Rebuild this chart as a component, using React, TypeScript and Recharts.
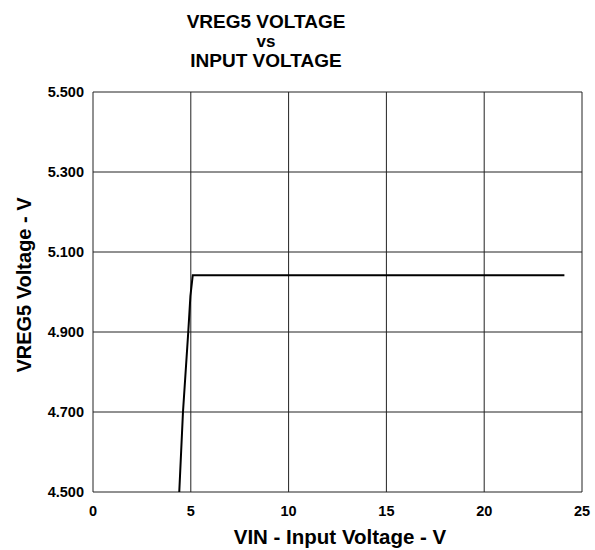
import { LineChart, Line, XAxis, YAxis, CartesianGrid } from 'recharts';

const vin = [4.41, 4.6, 4.87, 4.98, 5.1, 24.1];
const vreg5 = [4.5, 4.7, 4.9, 4.99, 5.042, 5.042];
const xTicks = [0, 5, 10, 15, 20, 25];
const yTicks = [4.5, 4.7, 4.9, 5.1, 5.3, 5.5];
const titleLines = ['VREG5 VOLTAGE', 'vs', 'INPUT VOLTAGE'];

const data = vin.map((v, i) => ({ vin: v, vreg5: vreg5[i] }));

const font = '"Liberation Sans", Arial, sans-serif';

function XTick({ x, y, payload }: any) {
  return (
    <text x={x} y={y + 18} textAnchor="middle" fontSize={14.5} fontWeight={700} fill="#000" fontFamily={font}>
      {payload.value}
    </text>
  );
}

function YTick({ x, y, payload }: any) {
  return (
    <text x={x - 3} y={y + 5} textAnchor="end" fontSize={14.5} fontWeight={700} fill="#000" fontFamily={font}>
      {Number(payload.value).toFixed(3)}
    </text>
  );
}

const titleLine = (top: number, size: number, h: number) => ({
  position: 'absolute' as const,
  left: 116,
  width: 300,
  top,
  height: h,
  lineHeight: `${h}px`,
  textAlign: 'center' as const,
  fontSize: size,
  fontWeight: 700,
});

export default function App() {
  return (
    <div style={{ position: 'absolute', left: 0, top: 0, width: 595, height: 550, background: '#fff', fontFamily: font, color: '#000' }}>
      <div style={titleLine(12, 19, 20)}>{titleLines[0]}</div>
      <div style={titleLine(33, 17, 17)}>{titleLines[1]}</div>
      <div style={titleLine(51, 19, 20)}>{titleLines[2]}</div>
      <LineChart width={595} height={550} data={data} margin={{ top: 92, right: 13, bottom: 28, left: 33 }}>
        <CartesianGrid stroke="#222" strokeWidth={1} />
        <XAxis
          dataKey="vin"
          type="number"
          domain={[0, 25]}
          ticks={xTicks}
          axisLine={false}
          tickLine={false}
          tick={<XTick />}
          height={30}
          tickMargin={0}
        />
        <YAxis
          type="number"
          domain={[4.5, 5.5]}
          ticks={yTicks}
          axisLine={false}
          tickLine={false}
          tick={<YTick />}
          width={60}
          tickMargin={0}
        />
        <Line dataKey="vreg5" stroke="#000" strokeWidth={2} dot={false} isAnimationActive={false} />
      </LineChart>
      <div style={{ position: 'absolute', left: 90, width: 500, top: 526, lineHeight: '22px', textAlign: 'center', fontSize: 20.5, fontWeight: 700 }}>
        VIN - Input Voltage - V
      </div>
      <div
        style={{
          position: 'absolute',
          left: 24,
          top: 285,
          transform: 'translate(-50%, -50%) rotate(-90deg)',
          whiteSpace: 'nowrap',
          fontSize: 20,
          fontWeight: 700,
          lineHeight: '22px',
        }}
      >
        VREG5 Voltage - V
      </div>
    </div>
  );
}
